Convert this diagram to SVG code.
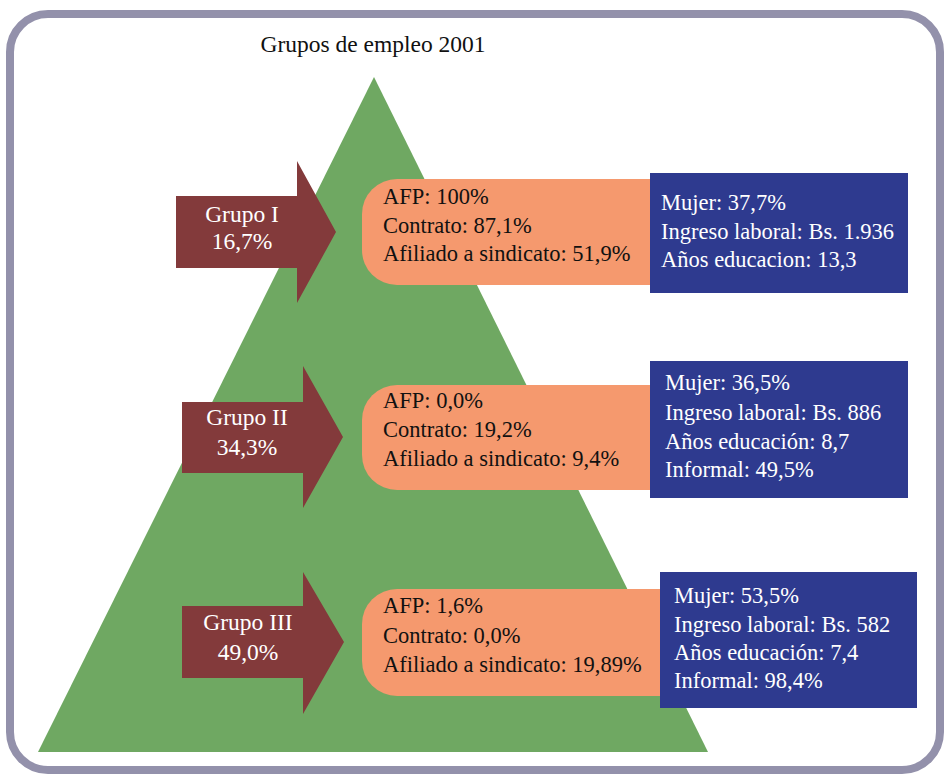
<svg xmlns="http://www.w3.org/2000/svg" width="945" height="777" viewBox="0 0 945 777">
<style>
text{font-family:"Liberation Serif","DejaVu Serif",serif;font-size:22.5px}
.arrow{fill:#833A3B}
.at{fill:#FFFFFF;text-anchor:middle;font-size:23.5px}
.orange{fill:#F5996E}
.ot{fill:#111111}
.blue{fill:#2E3A8F}
.bt{fill:#FFFFFF}
</style>
<rect x="10" y="14" width="930" height="756" rx="38" ry="38" fill="#FFFFFF" stroke="#9391AB" stroke-width="8"/>
<text x="373" y="52" text-anchor="middle" fill="#111111" style="font-size:23.5px">Grupos de empleo 2001</text>
<polygon id="pyramid" points="374,77 708,752 38,752" fill="#6FA862"/>
<g id="connectors"></g>
<g id="grupo1">
<polygon class="arrow" points="176,196 297,196 297,161 336,232 297,303 297,268 176,268"/>
<text class="at" x="242" y="222">Grupo I</text>
<text class="at" x="242" y="249">16,7%</text>
</g>
<g id="info1">
<path class="orange" d="M397,179 H650 V285 H397 A35,35 0 0 1 362,250 V214 A35,35 0 0 1 397,179 Z"/>
<text class="ot" x="383" y="204">AFP: 100%</text>
<text class="ot" x="383" y="233">Contrato: 87,1%</text>
<text class="ot" x="383" y="261">Afiliado a sindicato: 51,9%</text>
</g>
<g id="perfil1">
<rect class="blue" x="650" y="173" width="258" height="120"/>
<text class="bt" x="661" y="210">Mujer: 37,7%</text>
<text class="bt" x="661" y="239">Ingreso laboral: Bs. 1.936</text>
<text class="bt" x="661" y="267">Años educacion: 13,3</text>
</g>
<g id="grupo2">
<polygon class="arrow" points="182,402 303,402 303,366 343,437 303,508 303,473 182,473"/>
<text class="at" x="247" y="425">Grupo II</text>
<text class="at" x="247" y="455">34,3%</text>
</g>
<g id="info2">
<path class="orange" d="M397,385 H650 V490 H397 A35,35 0 0 1 362,455 V420 A35,35 0 0 1 397,385 Z"/>
<text class="ot" x="383" y="408">AFP: 0,0%</text>
<text class="ot" x="383" y="437">Contrato: 19,2%</text>
<text class="ot" x="383" y="466">Afiliado a sindicato: 9,4%</text>
</g>
<g id="perfil2">
<rect class="blue" x="650" y="361" width="258" height="137"/>
<text class="bt" x="665" y="390">Mujer: 36,5%</text>
<text class="bt" x="665" y="420">Ingreso laboral: Bs. 886</text>
<text class="bt" x="665" y="449">Años educación: 8,7</text>
<text class="bt" x="665" y="477">Informal: 49,5%</text>
</g>
<g id="grupo3">
<polygon class="arrow" points="182,606 303,606 303,572 344,642 303,714 303,678 182,678"/>
<text class="at" x="248" y="630">Grupo III</text>
<text class="at" x="248" y="660">49,0%</text>
</g>
<g id="info3">
<path class="orange" d="M397,589 H660 V696 H397 A35,35 0 0 1 362,661 V624 A35,35 0 0 1 397,589 Z"/>
<text class="ot" x="383" y="613">AFP: 1,6%</text>
<text class="ot" x="383" y="643">Contrato: 0,0%</text>
<text class="ot" x="383" y="672">Afiliado a sindicato: 19,89%</text>
</g>
<g id="perfil3">
<rect class="blue" x="660" y="572" width="257" height="136"/>
<text class="bt" x="674" y="603">Mujer: 53,5%</text>
<text class="bt" x="674" y="632">Ingreso laboral: Bs. 582</text>
<text class="bt" x="674" y="660">Años educación: 7,4</text>
<text class="bt" x="674" y="688">Informal: 98,4%</text>
</g>
</svg>
